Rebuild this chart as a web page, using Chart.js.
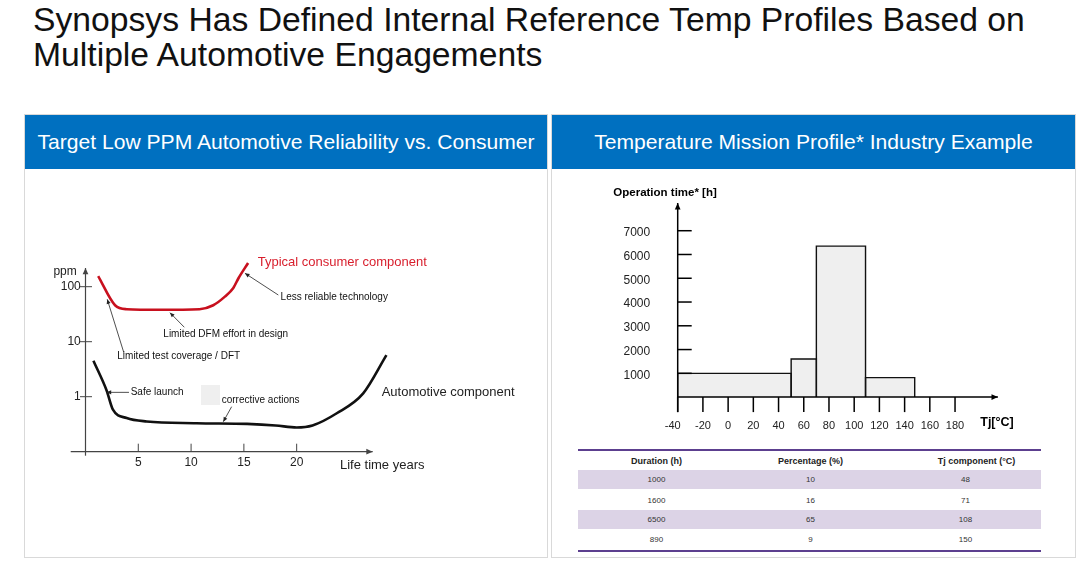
<!DOCTYPE html>
<html>
<head>
<meta charset="utf-8">
<script src="https://cdn.jsdelivr.net/npm/chart.js@4"></script>
<style>
  html, body { margin:0; padding:0; background:#fff; }
  body { width:1080px; height:573px; position:relative; overflow:hidden; font-family:"Liberation Sans", Arial, sans-serif; }
  .title { position:absolute; left:33px; top:2px; font-size:33.7px; line-height:34.5px; color:#111; white-space:nowrap; }
  .panel { position:absolute; top:114px; height:444px; box-sizing:border-box; border:1px solid #d9d9d9; background:#fff; }
  .hdr { position:absolute; left:0; top:0; right:0; height:54px; background:#0070c0; color:#fff; font-size:21.1px; line-height:54px; text-align:center; white-space:nowrap; }
  .cv { position:absolute; }
  table.tt { position:absolute; left:578px; top:449px; width:463px; border-collapse:collapse; table-layout:fixed;
             border-top:2px solid #5c3f8f; border-bottom:2px solid #5c3f8f; color:#333; }
  table.tt th { font-size:9px; font-weight:bold; color:#222; height:19px; padding:0; text-align:center; }
  table.tt td { font-size:8px; height:19.4px; padding:0; text-align:center; }
  table.tt tr.sh td { background:#dcd3e6; }
  table.tt tr.sh { border-bottom:1px solid #fff; }
</style>
</head>
<body>
<div class="title">Synopsys Has Defined Internal Reference Temp Profiles Based on<br>Multiple Automotive Engagements</div>

<div class="panel" style="left:24px; width:524px;"><div class="hdr">Target Low PPM Automotive Reliability vs. Consumer</div></div>
<div class="panel" style="left:551px; width:525px;"><div class="hdr">Temperature Mission Profile* Industry Example</div></div>

<canvas id="left" class="cv" width="522" height="388" style="left:25px; top:170px;"></canvas>
<canvas id="right" class="cv" width="523" height="275" style="left:552px; top:170px;"></canvas>

<table class="tt" id="tbl">
  <colgroup><col style="width:157px"><col style="width:151px"><col style="width:155px"></colgroup>
  <thead><tr id="thr"></tr></thead>
  <tbody id="tbd"></tbody>
</table>

<script>
// ---------------- Data: left chart (failure rate, ppm, log scale) ----------------
const consumerYears = [1.2, 2.8, 3.9, 7.0, 10.8, 12.1, 13.2, 14.0, 14.5, 15.4];
const consumerPpm   = [156, 46, 39, 38, 39, 46, 66, 95, 144, 270];
const autoYears     = [0.75, 2.0, 2.6, 3.9, 5.8, 10.5, 15.3, 18.0, 20.0, 21.5, 23.8, 26.3, 28.5];
const autoPpm       = [4.5, 1.3, 0.58, 0.41, 0.355, 0.33, 0.32, 0.3, 0.275, 0.3, 0.5, 1.15, 5.7];
const lifeTickLabels = [5, 10, 15, 20];
const ppmTickLabels  = [1, 10, 100];

// ---------------- Data: right chart (temperature mission profile) ----------------
const tjBinEdges   = [-40, 50, 70, 109, 148];
const opHours      = [1000, 1600, 6350, 820];
const tjTickLabels = [-40, -20, 0, 20, 40, 60, 80, 100, 120, 140, 160, 180];
const hourTickLabels = [1000, 2000, 3000, 4000, 5000, 6000, 7000];

// ---------------- Data: table ----------------
const tableHeaders  = ['Duration (h)', 'Percentage (%)', 'Tj component (\u00B0C)'];
const tableDuration = [1000, 1600, 6500, 890];
const tablePercent  = [10, 16, 65, 9];
const tableTj       = [48, 71, 108, 150];

const FONT = '"Liberation Sans", Arial, sans-serif';

// build table
(function(){
  const thr = document.getElementById('thr');
  tableHeaders.forEach((h, i) => {
    const th = document.createElement('th'); th.textContent = h;
    if (i === 2) th.style.paddingLeft = '26px';
    thr.appendChild(th);
  });
  const tb = document.getElementById('tbd');
  tableDuration.forEach((d, i) => {
    const tr = document.createElement('tr');
    if (i % 2 === 0) tr.className = 'sh';
    [d, tablePercent[i], tableTj[i]].forEach((v, j) => {
      const td = document.createElement('td'); td.textContent = v;
      if (j === 2) td.style.paddingLeft = '4px';
      tr.appendChild(td);
    });
    tb.appendChild(tr);
  });
})();

function arrowLine(ctx, x1, y1, x2, y2, head) {
  ctx.beginPath(); ctx.moveTo(x1, y1); ctx.lineTo(x2, y2); ctx.stroke();
  const a = Math.atan2(y2 - y1, x2 - x1);
  ctx.beginPath();
  ctx.moveTo(x2, y2);
  ctx.lineTo(x2 - head * Math.cos(a - 0.42), y2 - head * Math.sin(a - 0.42));
  ctx.lineTo(x2 - head * Math.cos(a + 0.42), y2 - head * Math.sin(a + 0.42));
  ctx.closePath(); ctx.fill();
}

// ---------------- Left chart annotations (data coordinates) ----------------
const leftTexts = [
  { t:'ppm', x:-0.83, y:187.5, size:12, color:'#222', align:'right' },
  { t:'Typical consumer component', x:16.31, y:273, size:13, color:'#d81e2c', align:'left' },
  { t:'Less reliable technology', x:18.48, y:63, size:10, color:'#111', align:'left' },
  { t:'Limited DFM effort in design', x:7.37, y:13.6, size:10, color:'#111', align:'left' },
  { t:'Limited test coverage / DFT', x:3.01, y:5.33, size:10, color:'#111', align:'left' },
  { t:'Safe launch', x:4.28, y:1.18, size:10, color:'#111', align:'left' },
  { t:'corrective actions', x:12.9, y:0.861, size:10, color:'#111', align:'left' },
  { t:'Automotive component', x:28.05, y:1.18, size:13, color:'#222', align:'left' },
  { t:'Life time years', x:24.1, y:0.0573, size:13, color:'#222', align:'left' }
];
const leftArrows = [
  [18.26, 70.6, 15.10, 175.5],
  [9.36, 18.3, 8.0, 33.7],
  [3.65, 6.15, 2.06, 59],
  [4.12, 1.2, 2.0, 1.2],
  [13.84, 0.658, 13.05, 0.351]
];

const leftDecor = {
  id: 'leftDecor',
  beforeDatasetsDraw(chart) {
    const { ctx, scales: { x, y } } = chart;
    ctx.save();
    ctx.fillStyle = '#efefef';
    const bx1 = x.getPixelForValue(10.94), bx2 = x.getPixelForValue(12.74);
    const by1 = y.getPixelForValue(1.63), by2 = y.getPixelForValue(0.706);
    ctx.fillRect(bx1, by1, bx2 - bx1, by2 - by1);
    ctx.restore();
  },
  afterDatasetsDraw(chart) {
    const { ctx, scales: { x, y } } = chart;
    ctx.save();
    ctx.strokeStyle = '#444'; ctx.fillStyle = '#444'; ctx.lineWidth = 1.2;
    const x0 = x.getPixelForValue(0);
    const yb = y.getPixelForValue(0.1);
    const xs = x.getPixelForValue(-1.4), xe = x.getPixelForValue(27.2);
    arrowLine(ctx, xs, yb, xe, yb, 7);
    const yt = y.getPixelForValue(219);
    arrowLine(ctx, x0, yb + 4, x0, yt, 7);
    ctx.lineWidth = 1;
    ctx.font = '12px ' + FONT; ctx.textAlign = 'right'; ctx.textBaseline = 'middle'; ctx.fillStyle = '#222';
    ppmTickLabels.forEach(v => {
      const py = y.getPixelForValue(v);
      ctx.beginPath(); ctx.moveTo(x0 - 5.5, py); ctx.lineTo(x0 + 6.5, py); ctx.stroke();
      ctx.fillText(String(v), x.getPixelForValue(-0.45), py);
    });
    ctx.textAlign = 'center';
    lifeTickLabels.forEach(v => {
      const px = x.getPixelForValue(v);
      ctx.beginPath(); ctx.moveTo(px, yb); ctx.lineTo(px, yb - 8); ctx.stroke();
      ctx.fillText(String(v), px, yb + 11);
    });
    leftTexts.forEach(o => {
      ctx.font = o.size + 'px ' + FONT; ctx.fillStyle = o.color; ctx.textAlign = o.align; ctx.textBaseline = 'middle';
      ctx.fillText(o.t, x.getPixelForValue(o.x), y.getPixelForValue(o.y));
    });
    ctx.strokeStyle = '#222'; ctx.fillStyle = '#222'; ctx.lineWidth = 0.8;
    leftArrows.forEach(a => {
      arrowLine(ctx, x.getPixelForValue(a[0]), y.getPixelForValue(a[1]), x.getPixelForValue(a[2]), y.getPixelForValue(a[3]), 5);
    });
    ctx.restore();
  }
};

new Chart(document.getElementById('left'), {
  type: 'scatter',
  data: {
    datasets: [
      { data: consumerYears.map((v, i) => ({ x: v, y: consumerPpm[i] })), showLine: true,
        borderColor: '#c8101e', borderWidth: 2.6, pointRadius: 0, tension: 0.4, cubicInterpolationMode: 'monotone', fill: false },
      { data: autoYears.map((v, i) => ({ x: v, y: autoPpm[i] })), showLine: true,
        borderColor: '#111', borderWidth: 2.6, pointRadius: 0, tension: 0.4, cubicInterpolationMode: 'monotone', fill: false }
    ]
  },
  options: {
    responsive: false, animation: false, clip: false,
    layout: { padding: { left: 44.66, top: 83.7, right: 155.3, bottom: 106.3 } },
    plugins: { legend: { display: false }, tooltip: { enabled: false } },
    scales: {
      x: { type: 'linear', min: -1.5, max: 29, display: false },
      y: { type: 'logarithmic', min: 0.1, max: 398.1, display: false }
    }
  },
  plugins: [leftDecor]
});

// ---------------- Right chart ----------------
const rightDecor = {
  id: 'rightDecor',
  afterDatasetsDraw(chart) {
    const { ctx, scales: { x, y } } = chart;
    ctx.save();
    ctx.strokeStyle = '#000'; ctx.fillStyle = '#000'; ctx.lineWidth = 1.5;
    const x0 = x.getPixelForValue(-40), y0 = y.getPixelForValue(0);
    arrowLine(ctx, x0, y0, x.getPixelForValue(214), y0, 7);
    arrowLine(ctx, x0, y0 + 15, x0, y.getPixelForValue(8166), 7);
    ctx.lineWidth = 1.5;
    ctx.font = '12px ' + FONT; ctx.fillStyle = '#222'; ctx.textAlign = 'right'; ctx.textBaseline = 'middle';
    hourTickLabels.forEach(v => {
      const py = y.getPixelForValue(v);
      ctx.beginPath(); ctx.moveTo(x0, py); ctx.lineTo(x0 + 14, py); ctx.stroke();
      ctx.fillText(String(v), x0 - 27.5, py + 2);
    });
    ctx.font = '11px ' + FONT; ctx.textAlign = 'center';
    tjTickLabels.forEach(v => {
      const px = x.getPixelForValue(v);
      ctx.beginPath(); ctx.moveTo(px, y0); ctx.lineTo(px, y0 + 15); ctx.stroke();
      ctx.fillText(String(v), px - (v === -40 ? 5 : 0), y0 + 29);
    });
    ctx.fillStyle = '#000';
    ctx.font = 'bold 12.5px ' + FONT; ctx.textAlign = 'left';
    ctx.fillText('Tj[\u00B0C]', x.getPixelForValue(200), y0 + 25);
    ctx.font = 'bold 11.5px ' + FONT;
    ctx.fillText('Operation time* [h]', x0 - 64.4, y.getPixelForValue(8166) - 10.5);
    ctx.restore();
  }
};

new Chart(document.getElementById('right'), {
  type: 'scatter',
  data: {
    datasets: opHours.map((h, i) => ({
      data: [
        { x: tjBinEdges[i], y: 0 }, { x: tjBinEdges[i], y: h },
        { x: tjBinEdges[i + 1], y: h }, { x: tjBinEdges[i + 1], y: 0 }
      ],
      showLine: true, tension: 0, pointRadius: 0,
      borderColor: '#111', borderWidth: 1.4, backgroundColor: '#efefef', fill: 'origin'
    }))
  },
  options: {
    responsive: false, animation: false, clip: false,
    layout: { padding: { left: 125.7, top: 33, right: 77.1, bottom: 47.9 } },
    plugins: { legend: { display: false }, tooltip: { enabled: false }, filler: { drawTime: 'beforeDatasetsDraw' } },
    scales: {
      x: { type: 'linear', min: -40, max: 214, display: false },
      y: { type: 'linear', min: 0, max: 8166, display: false }
    }
  },
  plugins: [rightDecor]
});
</script>
</body>
</html>
